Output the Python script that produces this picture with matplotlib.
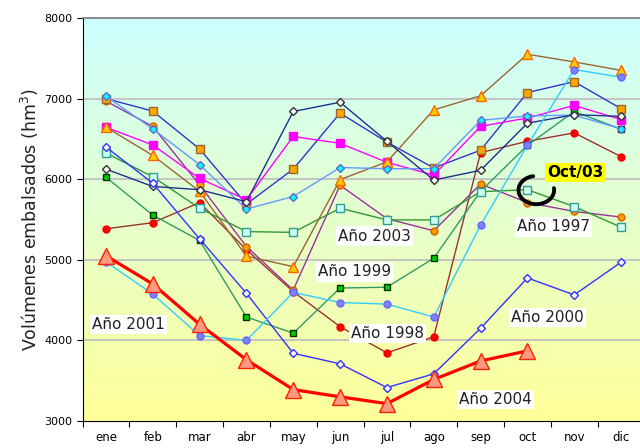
import numpy as np
import matplotlib
matplotlib.use("Agg")
import matplotlib.pyplot as plt
from matplotlib.colors import LinearSegmentedColormap

nan = np.nan
months = ['ene', 'feb', 'mar', 'abr', 'may', 'jun', 'jul', 'ago', 'sep', 'oct', 'nov', 'dic']

# volumenes embalsados (hm3)
a1993 = [7030, 6625, 6180, 5630, 5785, 6145, 6130, 6130, 6730, 6785, 6795, 6625]
a1994 = [7000, 6845, 6375, 5690, 6125, 6820, 6460, 6140, 6360, 7075, 7210, 6875]
a1995 = [6645, 6425, 6010, 5745, 6530, 6445, 6210, 6050, 6655, 6760, 6915, 6740]
a1996 = [6645, 6295, 5850, 5045, 4915, 5995, 6215, 6860, 7035, 7550, 7455, 7350]
a1997 = [6970, 6655, 5930, 5165, 4625, 5925, 5510, 5360, 5940, 5710, 5600, 5530]
a1998 = [5385, 5460, 5710, 5125, 4605, 4170, 3845, 4045, 6330, 6470, 6575, 6280]
a1999 = [6025, 5555, 5240, 4290, 4090, 4650, 4660, 5020, 5850, 6420, 6840, 6620]
a2000 = [6400, 5950, 5260, 4585, 3840, 3710, 3415, 3585, 4150, 4775, 4565, 4970]
a2001 = [4975, 4575, 4060, 4000, 4595, 4470, 4450, 4290, 5430, 6420, 7360, 7265]
a2002 = [6125, 5910, 5870, 5720, 6840, 6955, 6470, 5990, 6110, 6695, 6800, 6780]
a2003 = [6325, 6030, 5640, 5350, 5340, 5640, 5495, 5495, 5845, 5870, 5660, 5405]
a2004 = [5050, 4700, 4200, 3760, 3390, 3300, 3215, 3515, 3745, 3870, nan, nan]

x = np.arange(len(months))

fig = plt.figure(figsize=(6.4, 4.48), dpi=100)
ax = fig.add_axes([82.5 / 640, 27 / 448, 562 / 640, 403 / 448])

# fondo degradado cian -> amarillo
cmap = LinearSegmentedColormap.from_list('bg', ['#FFFF99', '#CCFFFF'])
grad = np.linspace(0, 1, 256).reshape(-1, 1)
ax.imshow(grad, cmap=cmap, origin='lower', aspect='auto',
          extent=[-0.5, 11.5, 3000, 8000], zorder=0)

for yv in [4000, 5000, 6000, 7000]:
    ax.axhline(yv, color='#C0C0C0', lw=1.3, zorder=1)

ax.plot(x, a1998, color='#993333', lw=1, marker='o', ms=5, mfc='#FF0000', mec='#EE0000', zorder=3)
ax.plot(x, a1997, color='#993399', lw=1, marker='o', ms=5, mfc='#FF9900', mec='#CC6600', zorder=3)
ax.plot(x, a1999, color='#339966', lw=1, marker='s', ms=5, mfc='#00CC00', mec='#003300', zorder=3)
ax.plot(x, a2003, color='#339933', lw=1, marker='s', ms=5.5, mfc='#CCFFEE', mec='#339999', zorder=3)
ax.plot(x, a1994, color='#3333CC', lw=1, marker='s', ms=5.5, mfc='#FFA500', mec='#996633', zorder=3)
ax.plot(x, a1995, color='#FF00FF', lw=1, marker='s', ms=5.5, mfc='#FF00FF', mec='#FF00FF', zorder=3)
ax.plot(x, a1996, color='#996633', lw=1, marker='^', ms=6.5, mfc='#FFCC00', mec='#FF6600', zorder=3)
ax.plot(x, a1993, color='#6699FF', lw=1, marker='D', ms=4, mfc='#00FFFF', mec='#6666CC', zorder=3)
ax.plot(x, a2002, color='#1F2F8F', lw=1, marker='D', ms=4, mfc='white', mec='#333333', zorder=3)
ax.plot(x, a2000, color='#3333FF', lw=1, marker='D', ms=4, mfc='white', mec='#3333FF', zorder=3)
ax.plot(x, a2001, color='#33CCFF', lw=1, marker='o', ms=5, mfc='#8080FF', mec='#6666FF', zorder=3)
ax.plot(x, a2004, color='#FF0000', lw=2.3, marker='^', ms=11, mfc='#FF9980', mec='#FF2200', zorder=4)

# etiquetas
box = dict(facecolor='white', edgecolor='none', pad=1.5)
lab = dict(fontsize=11, color='#222222', ha='center', va='center', bbox=box, zorder=6)
ax.text(0.49, 4195, 'Año 2001', **lab)
ax.text(5.31, 4850, 'Año 1999', **lab)
ax.text(5.74, 5295, 'Año 2003', **lab)
ax.text(6.02, 4084, 'Año 1998', **lab)
ax.text(9.55, 5407, 'Año 1997', **lab)
ax.text(9.42, 4282, 'Año 2000', **lab)
ax.text(8.31, 3268, 'Año 2004', **lab)

# circulo de llamada alrededor de oct/03
t = np.radians(np.linspace(100, 368, 80))
ax.plot(9.19 + 0.38 * np.cos(t), 5865 + 175 * np.sin(t), color='black', lw=2.8,
        solid_capstyle='round', zorder=6)
ax.text(10.02, 6087, 'Oct/03', fontsize=11, fontweight='bold', color='black',
        ha='center', va='center', zorder=7,
        bbox=dict(facecolor='#FFFF00', edgecolor='none', pad=1.5))

ax.set_xlim(-0.5, 11.5)
ax.set_ylim(3000, 8000)
ax.set_yticks([3000, 4000, 5000, 6000, 7000, 8000])
ax.tick_params(axis='y', labelsize=8, length=4, direction='out')
ax.set_xticks(np.arange(-0.5, 12, 1))
ax.set_xticklabels([])
ax.set_xticks(x, minor=True)
ax.set_xticklabels(months, minor=True, fontsize=8.5)
ax.tick_params(axis='x', which='major', length=4, direction='out')
ax.tick_params(axis='x', which='minor', length=0, pad=7)

ax.spines['right'].set_visible(False)
ax.spines['top'].set_color('#808080')
ax.spines['top'].set_linewidth(1.3)
ax.spines['left'].set_color('black')
ax.spines['bottom'].set_color('black')

fig.text(30 / 640, 1 - 220 / 448, 'Volúmenes embalsados (hm$^3$)', rotation=90,
         fontsize=12.5, color='#222222', ha='center', va='center')

fig.savefig('out.png', dpi=100)
